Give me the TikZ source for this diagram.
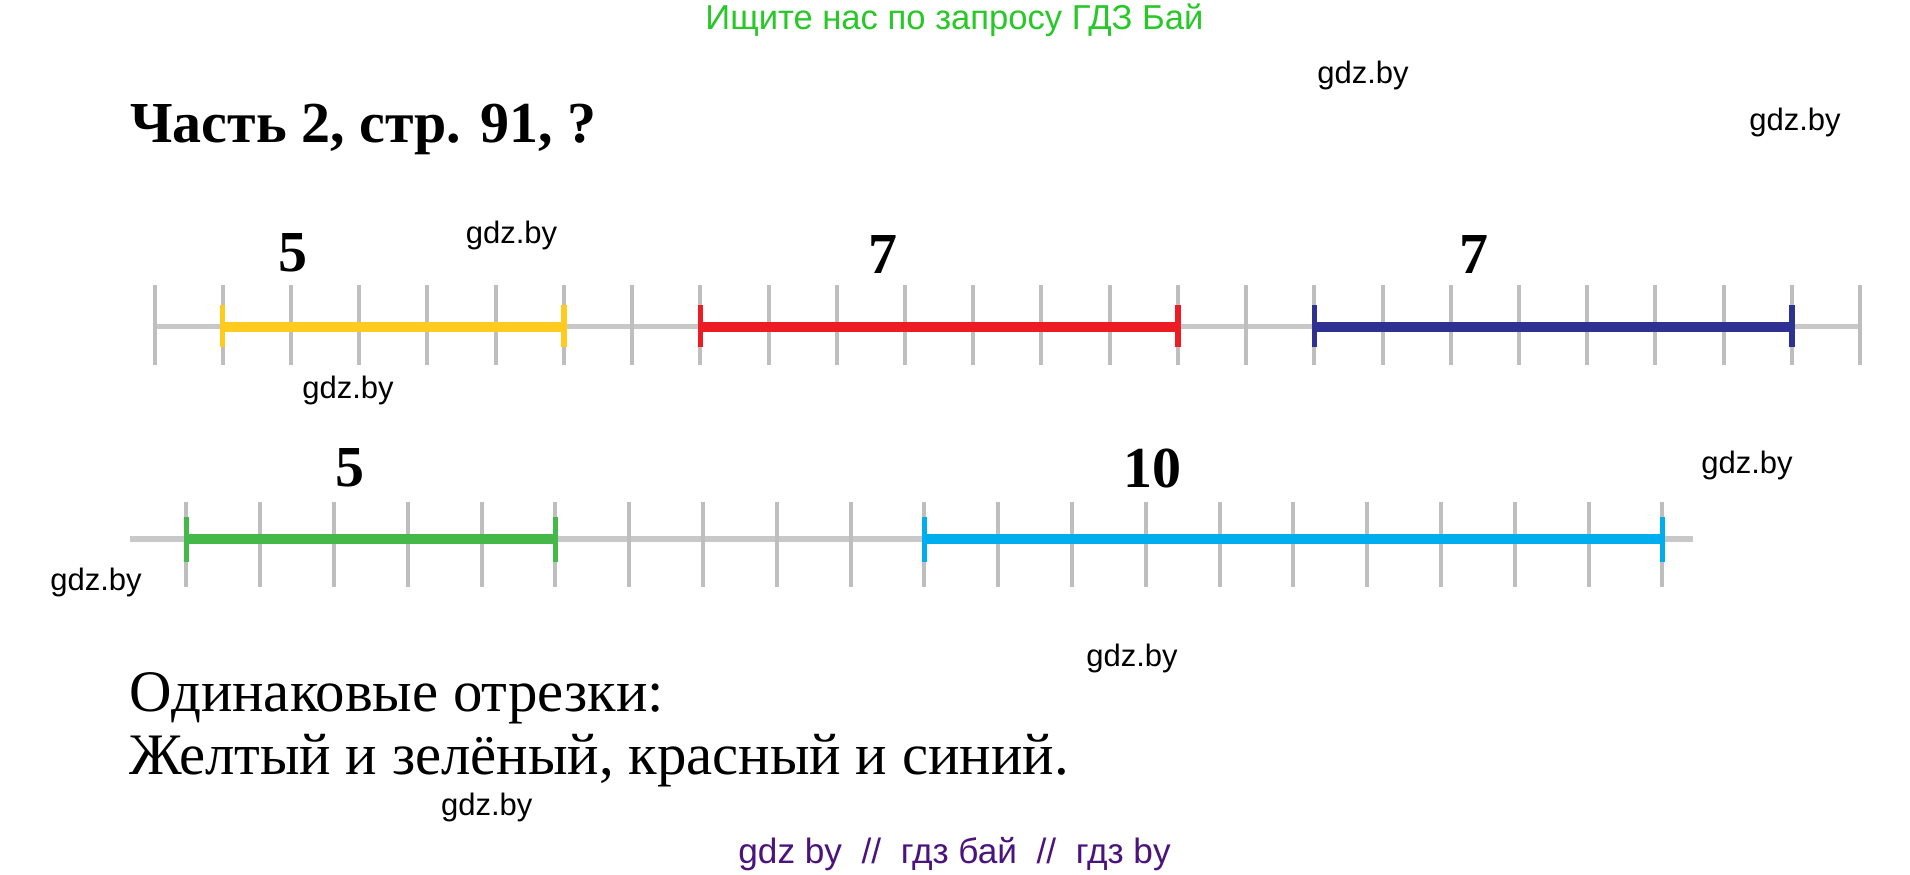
\documentclass[tikz,border=0pt]{standalone}
\usepackage{fontspec}
\setmainfont{Liberation Serif}
\newfontfamily\sansf{Liberation Sans}
\definecolor{lgray}{RGB}{200,200,200}
\definecolor{tgray}{RGB}{190,190,190}
\definecolor{cyellow}{RGB}{255,203,31}
\definecolor{cred}{RGB}{237,28,36}
\definecolor{cnavy}{RGB}{46,49,146}
\definecolor{cgreen}{RGB}{68,184,72}
\definecolor{ccyan}{RGB}{0,174,239}
\definecolor{hgreen}{RGB}{40,200,40}
\definecolor{fpurple}{RGB}{75,20,125}
\tikzset{
  axisline/.style={draw=lgray, line width=2.6pt},
  axistick/.style={draw=tgray, line width=2pt},
  seg/.style={line width=5pt},
  segend/.style={line width=2.6pt},
  numlabel/.style={inner sep=0pt, anchor=base, font=\fontsize{29pt}{30pt}\selectfont\bfseries},
  wmark/.style={inner sep=0pt, anchor=base, font=\sansf\fontsize{15.5pt}{16pt}\selectfont},
  bodytext/.style={inner sep=0pt, anchor=base west, font=\fontsize{29.4pt}{32pt}\selectfont},
}
\begin{document}
\begin{tikzpicture}[x=0.5pt,y=-0.5pt]
\useasboundingbox[fill=white] (0,0) rectangle (1910,874);

% header
\node[inner sep=0pt, anchor=base west, text=hgreen, font=\sansf\fontsize{17.3pt}{18pt}\selectfont] (hdr) at (705,29) {Ищите нас по запросу ГДЗ Бай};
\node[inner sep=0pt, anchor=base west, font=\fontsize{29pt}{30pt}\selectfont\bfseries] (title) at (130,142.5) {Часть 2, стр. 91, ?};

% top number line
\foreach \i in {0,...,25} {\coordinate (a\i) at ({154.6+68.22*\i},326.7);}
\draw[axisline] (a0) -- (a25);
\foreach \i in {0,...,25} {\draw[axistick] ([yshift=41.7*0.5pt]a\i) -- ([yshift=-38.3*0.5pt]a\i);}
\draw[seg, cyellow] (a1) -- (a6);
\draw[seg, cred] (a8) -- (a15);
\draw[seg, cnavy] (a17) -- (a24);
\foreach \i/\c in {1/cyellow,6/cyellow,8/cred,15/cred,17/cnavy,24/cnavy} {
  \draw[segend, \c] ([yshift=21.7*0.5pt]a\i) -- ([yshift=-20*0.5pt]a\i);}
\node[numlabel] (l1) at (293,271.7) {5};
\node[numlabel] (l2) at (882.8,273) {7};
\node[numlabel] (l3) at (1473.5,273) {7};

% bottom number line
\foreach \i in {0,...,20} {\coordinate (b\i) at ({186.3+73.8*\i},539);}
\coordinate (bs) at (130,539);
\coordinate (be) at (1693,539);
\draw[axisline] (bs) -- (be);
\foreach \i in {0,...,20} {\draw[axistick] ([yshift=37.3*0.5pt]b\i) -- ([yshift=-47.7*0.5pt]b\i);}
\draw[seg, cgreen] (b0) -- (b5);
\draw[seg, ccyan] (b10) -- (b20);
\foreach \i/\c in {0/cgreen,5/cgreen,10/ccyan,20/ccyan} {
  \draw[segend, \c] ([yshift=22.3*0.5pt]b\i) -- ([yshift=-22.7*0.5pt]b\i);}
\node[numlabel] (l4) at (349.6,486.7) {5};
\node[numlabel] (l5) at (1152,487) {10};

% answer text
\node[bodytext] (ans1) at (129,711) {Одинаковые отрезки:};
\node[bodytext] (ans2) at (129,774) {Желтый и зелёный, красный и синий.};

% watermarks
\node[wmark] (w1) at (1363,83.3) {gdz.by};
\node[wmark] (w2) at (1795,130) {gdz.by};
\node[wmark] (w3) at (511.5,243.3) {gdz.by};
\node[wmark] (w4) at (348,398.3) {gdz.by};
\node[wmark] (w5) at (1747,473) {gdz.by};
\node[wmark] (w6) at (96,590) {gdz.by};
\node[wmark] (w7) at (1132,666.7) {gdz.by};
\node[wmark] (w8) at (486.7,815) {gdz.by};

% footer
\node[inner sep=0pt, anchor=base west, text=fpurple, font=\sansf\fontsize{17.6pt}{18pt}\selectfont] (ftr) at (738,863.3) {gdz by\ \ //\ \ гдз бай\ \ //\ \ гдз by};
\end{tikzpicture}
\end{document}
